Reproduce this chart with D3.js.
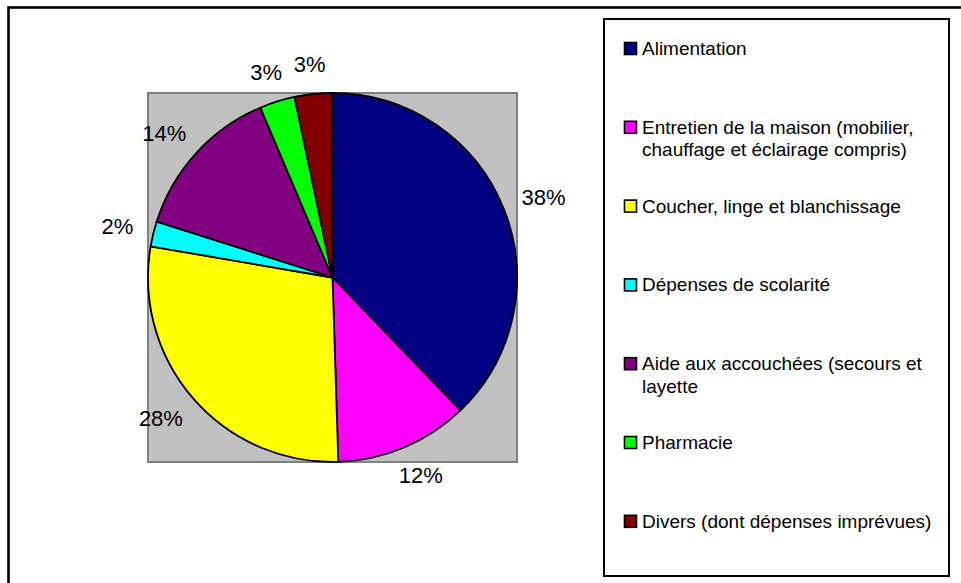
<!DOCTYPE html>
<html>
<head>
<meta charset="utf-8">
<script src="https://cdn.jsdelivr.net/npm/d3@7"></script>
<style>
  body { margin: 0; background: #fff; }
  text { font-family: "Liberation Sans", Arial, sans-serif; fill: #000; }
</style>
</head>
<body>
<div id="chart"></div>
<script>
// Data (percent of budget).
const categories = [
  "Alimentation",
  "Entretien de la maison (mobilier,|chauffage et éclairage compris)",
  "Coucher, linge et blanchissage",
  "Dépenses de scolarité",
  "Aide aux accouchées (secours et|layette",
  "Pharmacie",
  "Divers (dont dépenses imprévues)"
];
const values = [37.8, 11.7, 28.2, 2.2, 13.7, 3.1, 3.3];
const colors = ["#000080", "#ff00ff", "#ffff00", "#00ffff", "#800080", "#00ff00", "#800000"];

const width = 961, height = 583;

const svg = d3.select("#chart")
  .append("svg")
  .attr("width", width)
  .attr("height", height);

// Outer chart frame (runs off the right and bottom edges).
svg.append("rect")
  .attr("x", 8.5).attr("y", 7.5)
  .attr("width", 970).attr("height", 600)
  .attr("fill", "#fff")
  .attr("stroke", "#000")
  .attr("stroke-width", 2.6);

// Plot area.
const plot = {x: 148, y: 93, size: 369};
svg.append("rect")
  .attr("x", plot.x).attr("y", plot.y)
  .attr("width", plot.size).attr("height", plot.size)
  .attr("fill", "#c0c0c0")
  .attr("stroke", "#808080")
  .attr("stroke-width", 2);

const cx = plot.x + plot.size / 2;
const cy = plot.y + plot.size / 2;
const radius = plot.size / 2;

const pie = d3.pie().sort(null).value((d) => d.value);
const arc = d3.arc().innerRadius(0).outerRadius(radius);
const data = values.map((v, i) => ({value: v, name: categories[i], color: colors[i]}));
const arcs = pie(data);

const g = svg.append("g").attr("transform", `translate(${cx},${cy})`);

g.selectAll("path")
  .data(arcs)
  .enter()
  .append("path")
  .attr("d", arc)
  .attr("fill", (d) => d.data.color)
  .attr("stroke", "#000")
  .attr("stroke-width", 1.8)
  .attr("stroke-linejoin", "round");

// Percentage labels, placed just outside the pie.
const labelR = radius + 21;
g.selectAll("text.pct")
  .data(arcs)
  .enter()
  .append("text")
  .attr("class", "pct")
  .attr("font-size", 22)
  .attr("text-anchor", "middle")
  .attr("dominant-baseline", "central")
  .text((d) => Math.round(d.data.value) + "%")
  .each(function (d) {
    const a = (d.startAngle + d.endAngle) / 2;
    const s = Math.sin(a), c = Math.cos(a);
    const w = this.getComputedTextLength();
    const h = 18;
    const x = s * labelR + s * w / 2;
    const y = -c * labelR - c * h / 2;
    d3.select(this).attr("x", x).attr("y", y);
  });

// Legend.
const legend = {x: 604, y: 19, w: 345, h: 557};
svg.append("rect")
  .attr("x", legend.x).attr("y", legend.y)
  .attr("width", legend.w).attr("height", legend.h)
  .attr("fill", "#fff")
  .attr("stroke", "#000")
  .attr("stroke-width", 2);

const step = 78.8;
const items = svg.selectAll("g.item")
  .data(data)
  .enter()
  .append("g")
  .attr("class", "item")
  .attr("transform", (d, i) => `translate(${legend.x + 20},${55 + i * step})`);

items.append("rect")
  .attr("x", 0.5).attr("y", -12.5)
  .attr("width", 12).attr("height", 12)
  .attr("fill", (d) => d.color)
  .attr("stroke", "#000")
  .attr("stroke-width", 1.6);

items.append("text")
  .attr("x", 18)
  .attr("font-size", 19)
  .each(function (d) {
    const lines = d.name.split("|");
    d3.select(this).selectAll("tspan")
      .data(lines)
      .enter()
      .append("tspan")
      .attr("x", 18)
      .attr("dy", (l, j) => j === 0 ? 0 : 22.5)
      .text((l) => l);
  });
</script>
</body>
</html>
